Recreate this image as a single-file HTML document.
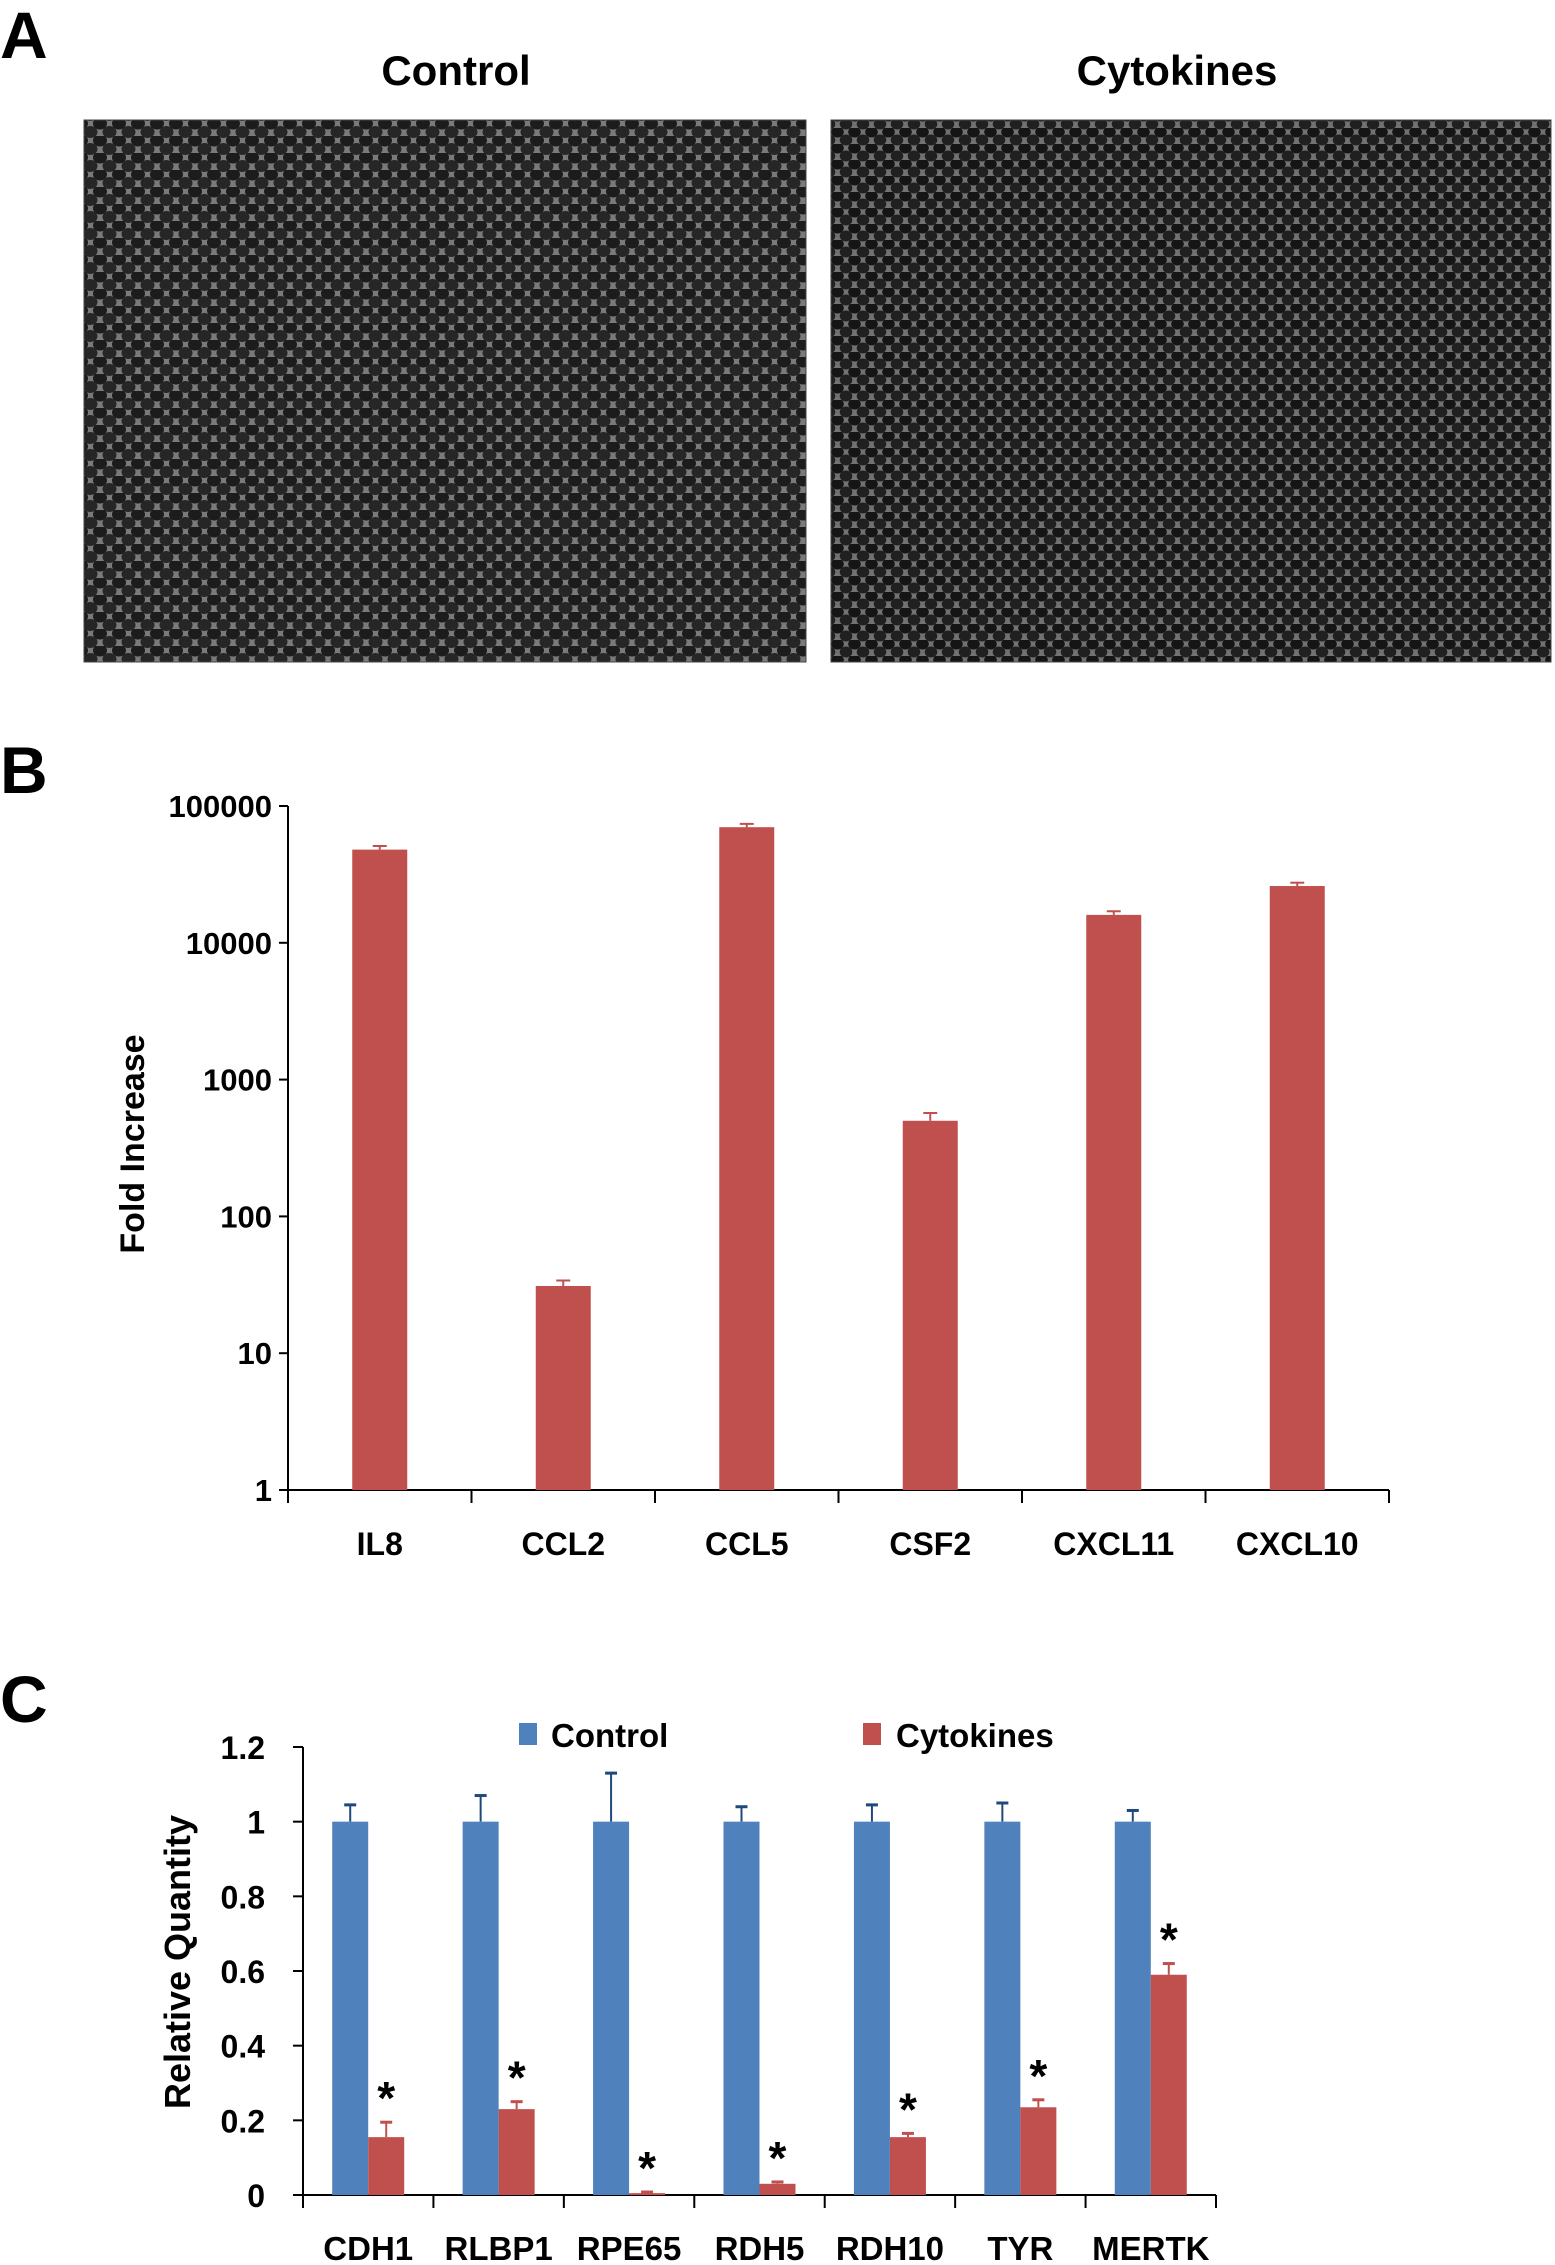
<!DOCTYPE html>
<html><head><meta charset="utf-8"><style>
html,body{margin:0;padding:0;background:#fff}
body{width:1555px;height:2265px;overflow:hidden;position:relative;font-family:"Liberation Sans",sans-serif}
svg{position:absolute;left:0;top:0}
</style></head><body>
<svg id="fig" width="1555" height="2265" viewBox="0 0 1555 2265" xmlns="http://www.w3.org/2000/svg" font-family="Liberation Sans, sans-serif" font-weight="bold">
<defs>
<pattern id="cells" width="19" height="17" patternUnits="userSpaceOnUse">
<rect width="19" height="17" fill="#7a7a7a"/>
<ellipse cx="5" cy="4.5" rx="7" ry="6" fill="#1c1c1c"/>
<ellipse cx="14.5" cy="13" rx="7" ry="6" fill="#262626"/>
<ellipse cx="14.5" cy="-4" rx="7" ry="6" fill="#262626"/>
<ellipse cx="-4.5" cy="13" rx="7" ry="6" fill="#262626"/>
<ellipse cx="24" cy="4.5" rx="7" ry="6" fill="#1c1c1c"/>
</pattern>
<pattern id="cells2" width="17" height="16" patternUnits="userSpaceOnUse">
<rect width="17" height="16" fill="#727272"/>
<ellipse cx="4.5" cy="4" rx="6.3" ry="5.5" fill="#151515"/>
<ellipse cx="13" cy="12" rx="6.3" ry="5.5" fill="#202020"/>
<ellipse cx="13" cy="-4" rx="6.3" ry="5.5" fill="#202020"/>
<ellipse cx="-4" cy="12" rx="6.3" ry="5.5" fill="#202020"/>
<ellipse cx="21.5" cy="4" rx="6.3" ry="5.5" fill="#151515"/>
</pattern>
</defs>
<text x="0" y="58" font-size="66">A</text>
<text x="456" y="85" font-size="42" text-anchor="middle">Control</text>
<text x="1177" y="85" font-size="42" text-anchor="middle">Cytokines</text>
<rect x="84" y="120" width="722" height="542" fill="url(#cells)" stroke="#444"/>
<rect x="831" y="120" width="720" height="542" fill="url(#cells2)" stroke="#444"/>
<text x="0" y="793" font-size="66">B</text>
<g id="chartB"></g>
<text x="0" y="1722" font-size="66">C</text>
<g id="chartC"></g>
</svg>
<script>
const NS="http://www.w3.org/2000/svg";
function mk(parent,tag,attrs,text){const e=document.createElementNS(NS,tag);for(const k in attrs)e.setAttribute(k,attrs[k]);if(text!==undefined)e.textContent=text;parent.appendChild(e);return e;}

const bGenes=["IL8","CCL2","CCL5","CSF2","CXCL11","CXCL10"];
const bValues=[48000,31,70000,500,16000,26000];
const bErrors=[3000,3,4000,70,1000,1500];
const bTicks=[1,10,100,1000,10000,100000];
const bTickLabels=["1","10","100","1000","10000","100000"];

const cGenes=["CDH1","RLBP1","RPE65","RDH5","RDH10","TYR","MERTK"];
const cControl=[1,1,1,1,1,1,1];
const cControlErr=[0.045,0.07,0.13,0.04,0.045,0.05,0.03];
const cCyto=[0.155,0.23,0.005,0.03,0.155,0.235,0.59];
const cCytoErr=[0.04,0.02,0.003,0.005,0.01,0.02,0.03];
const cTicks=[0,0.2,0.4,0.6,0.8,1,1.2];
const cTickLabels=["0","0.2","0.4","0.6","0.8","1","1.2"];

(function(){
const g=document.getElementById('chartB');
const x0=288,x1=1389,yTop=806,yBot=1490;
const y=v=>yBot-(Math.log10(v)/5)*(yBot-yTop);
const band=(x1-x0)/bGenes.length;
const red="#c0504d";
bTicks.forEach((t,i)=>{
 const tk=mk(g,'line',{x1:x0-9,x2:x0,y1:y(t),y2:y(t),stroke:"#000","stroke-width":2});
 
 
 const lb=mk(g,'text',{x:x0-16,y:y(t)+11,"font-size":31,"text-anchor":"end"},bTickLabels[i]);
 
 
});
const ax=mk(g,'line',{x1:x0,x2:x0,y1:yTop,y2:yBot,stroke:"#000","stroke-width":2});


const xa=mk(g,'line',{x1:x0,x2:x1,y1:yBot,y2:yBot,stroke:"#000","stroke-width":2});


for(let i=0;i<=bGenes.length;i++){
 const t=mk(g,'line',{x1:x0+i*band,x2:x0+i*band,y1:yBot,y2:yBot+13,stroke:"#000","stroke-width":2});
 
 
}
bGenes.forEach((gn,i)=>{
 const cx=x0+band*(i+0.5), w=55;
 const top=y(bValues[i]), et=y(bValues[i]+bErrors[i]);
 const eb=mk(g,'line',{x1:cx,x2:cx,y1:et,y2:top,stroke:red,"stroke-width":2});
 
 
 const ec=mk(g,'line',{x1:cx-7,x2:cx+7,y1:et,y2:et,stroke:red,"stroke-width":2});
 
 
 const r=mk(g,'rect',{x:cx-w/2,y:top,width:w,height:yBot-top,fill:red});
 
 
 const l=mk(g,'text',{x:cx,y:1555,"font-size":32,"text-anchor":"middle"},gn);
 
 
});
const yt=mk(g,'text',{x:0,y:0,"font-size":34,"text-anchor":"middle",transform:"translate(144,1144) rotate(-90)"},"Fold Increase");


})();

(function(){
const g=document.getElementById('chartC');
const x0=303,x1=1216,yTop=1747,yBot=2195;
const y=v=>yBot-(v/1.2)*(yBot-yTop);
const band=(x1-x0)/cGenes.length;
const blue="#4f81bd",red="#c0504d";
cTicks.forEach((t,i)=>{
 const tk=mk(g,'line',{x1:x0-10,x2:x0,y1:y(t),y2:y(t),stroke:"#000","stroke-width":2});
 
 
 const lb=mk(g,'text',{x:x0-38,y:y(t)+12,"font-size":32,"text-anchor":"end"},cTickLabels[i]);
 
 
});
const ax=mk(g,'line',{x1:x0,x2:x0,y1:yTop,y2:yBot,stroke:"#000","stroke-width":2});


const xa=mk(g,'line',{x1:x0-10,x2:x1,y1:yBot,y2:yBot,stroke:"#000","stroke-width":2});


for(let i=0;i<=cGenes.length;i++){
 const t=mk(g,'line',{x1:x0+i*band,x2:x0+i*band,y1:yBot,y2:yBot+13,stroke:"#000","stroke-width":2});
 
 
}
const w=36;
cGenes.forEach((gn,i)=>{
 const cx=x0+band*(i+0.5);
 const ct=y(cControl[i]), cet=y(cControl[i]+cControlErr[i]), bx=cx-w/2;
 const e1=mk(g,'line',{x1:bx,x2:bx,y1:cet,y2:ct,stroke:"#1f497d","stroke-width":2});
 
 
 const c1=mk(g,'line',{x1:bx-6,x2:bx+6,y1:cet,y2:cet,stroke:"#1f497d","stroke-width":3});
 
 
 const r1=mk(g,'rect',{x:cx-w,y:ct,width:w,height:yBot-ct,fill:blue});
 
 
 const rt=y(cCyto[i]), ret=y(cCyto[i]+cCytoErr[i]), rx=cx+w/2;
 const e2=mk(g,'line',{x1:rx,x2:rx,y1:ret,y2:rt,stroke:red,"stroke-width":2});
 
 
 const c2=mk(g,'line',{x1:rx-6,x2:rx+6,y1:ret,y2:ret,stroke:red,"stroke-width":3});
 
 
 const r2=mk(g,'rect',{x:cx,y:rt,width:w,height:Math.max(2,yBot-rt),fill:red});
 
 
 const st=mk(g,'text',{x:rx,y:ret-8,"font-size":46,"text-anchor":"middle"},"*");
 
 
 const l=mk(g,'text',{x:cx,y:2260,"font-size":33,"text-anchor":"middle"},gn);
 
 
});
const yt=mk(g,'text',{x:0,y:0,"font-size":36,"text-anchor":"middle",transform:"translate(190,1962) rotate(-90)"},"Relative Quantity");


const lg=mk(g,'g',{});


const s1=mk(lg,'rect',{x:519,y:1723,width:18,height:22,fill:blue});


const t1=mk(lg,'text',{x:551,y:1747,"font-size":33},"Control");


const s2=mk(lg,'rect',{x:863,y:1723,width:18,height:22,fill:red});


const t2=mk(lg,'text',{x:896,y:1747,"font-size":33},"Cytokines");


})();
</script>
</body></html>
